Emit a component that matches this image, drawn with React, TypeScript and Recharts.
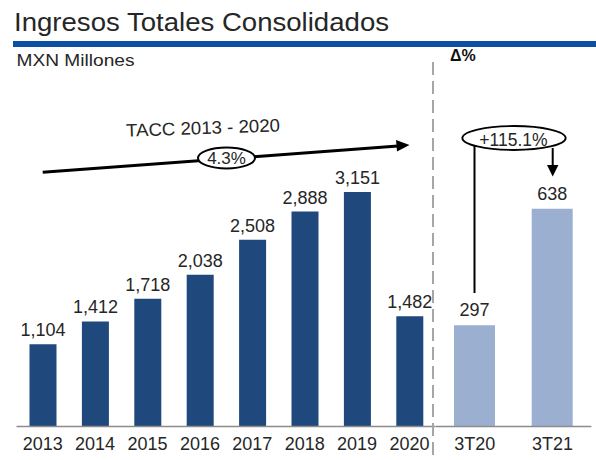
import React from 'react';
import { BarChart, Bar, XAxis, YAxis, LabelList } from 'recharts';

const years = ['2013', '2014', '2015', '2016', '2017', '2018', '2019', '2020'];
const annualRevenue = [1104, 1412, 1718, 2038, 2508, 2888, 3151, 1482];
const quarters = ['3T20', '3T21'];
const quarterlyRevenue = [297, 638];

const titleText = 'Ingresos Totales Consolidados';
const unitText = 'MXN Millones';
const deltaText = 'Δ%';
const cagrTitle = 'TACC 2013 - 2020';
const cagrValue = '4.3%';
const quarterGrowth = '+115.1%';

const annualData = years.map((y, i) => ({ period: y, value: annualRevenue[i] }));
const quarterData = quarters.map((q, i) => ({ period: q, value: quarterlyRevenue[i] }));

const DARK = '#1F487C';
const LIGHT = '#9BB0D0';
const TEXT = '#262626';
const FONT = '"Liberation Sans", Arial, sans-serif';

const fmt = (v: any) => Number(v).toLocaleString('en-US');

export default function App() {
  return (
    <div style={{ position: 'absolute', left: 0, top: 0, width: 596, height: 460, background: '#fff', fontFamily: FONT }}>
      <div style={{ position: 'absolute', left: 0, top: 0 }}>
        <BarChart
          width={596}
          height={460}
          data={annualData}
          margin={{ top: 166, right: 160.3, left: 16.5, bottom: 3.5 }}
        >
          <XAxis
            dataKey="period"
            interval={0}
            height={30}
            tickLine={false}
            tickMargin={5}
            axisLine={{ stroke: '#8c8c8c', strokeWidth: 1.5 }}
            tick={{ fontSize: 18, fill: TEXT, fontFamily: FONT }}
          />
          <YAxis hide type="number" domain={[0, 3500]} />
          <Bar dataKey="value" fill={DARK} barSize={27} isAnimationActive={false}>
            <LabelList
              dataKey="value"
              position="top"
              offset={8}
              formatter={fmt}
              style={{ fontSize: 18, fill: TEXT, fontFamily: FONT }}
            />
          </Bar>
        </BarChart>
      </div>
      <div style={{ position: 'absolute', left: 0, top: 0 }}>
        <BarChart
          width={596}
          height={460}
          data={quarterData}
          margin={{ top: 187.6, right: 4.6, left: 436, bottom: 3.5 }}
        >
          <XAxis
            dataKey="period"
            interval={0}
            height={30}
            tickLine={false}
            tickMargin={5}
            axisLine={{ stroke: '#8c8c8c', strokeWidth: 1.5 }}
            tick={{ fontSize: 18, fill: TEXT, fontFamily: FONT }}
          />
          <YAxis hide type="number" domain={[0, 700]} />
          <Bar dataKey="value" fill={LIGHT} barSize={41} isAnimationActive={false}>
            <LabelList
              dataKey="value"
              position="top"
              offset={9}
              formatter={fmt}
              style={{ fontSize: 18, fill: TEXT, fontFamily: FONT }}
            />
          </Bar>
        </BarChart>
      </div>
      <svg
        width={596}
        height={460}
        style={{ position: 'absolute', left: 0, top: 0, pointerEvents: 'none' }}
      >
        <text x={14} y={31} fontSize={25} fill={TEXT} fontFamily={FONT} textLength={375} lengthAdjust="spacingAndGlyphs">
          {titleText}
        </text>
        <rect x={13} y={41} width={583} height={6} fill="#0D4FA2" />
        <text x={16.5} y={65.5} fontSize={16} fill={TEXT} fontFamily={FONT} textLength={118} lengthAdjust="spacingAndGlyphs">
          {unitText}
        </text>
        <text x={450} y={61} fontSize={16} fontWeight="bold" fill="#111" fontFamily={FONT}>
          {deltaText}
        </text>
        <line x1={433} y1={62} x2={433} y2={460} stroke="#a6a6a6" strokeWidth={2} strokeDasharray="13 6" />

        {/* CAGR arrow */}
        <line x1={42.7} y1={172.3} x2={398} y2={146} stroke="#000" strokeWidth={3} />
        <polygon points="396,140 409.5,145 397,151.5" fill="#000" />
        <ellipse cx={226.5} cy={158} rx={28.5} ry={10.5} fill="#fff" stroke="#000" strokeWidth={2} />
        <text x={226.5} y={164} fontSize={17} fill={TEXT} fontFamily={FONT} textAnchor="middle">
          {cagrValue}
        </text>
        <text
          x={203}
          y={134}
          fontSize={18}
          fill={TEXT}
          fontFamily={FONT}
          textAnchor="middle"
          textLength={154}
          lengthAdjust="spacingAndGlyphs"
          transform="rotate(-2 203 128)"
        >
          {cagrTitle}
        </text>

        {/* Quarterly growth */}
        <line x1={474.5} y1={146} x2={474.5} y2={293} stroke="#000" strokeWidth={2} />
        <line x1={552.7} y1={148} x2={552.7} y2={166} stroke="#000" strokeWidth={2} />
        <polygon points="547,165 558.4,165 552.7,176.5" fill="#000" />
        <ellipse cx={514} cy={138} rx={51.7} ry={12} fill="#fff" stroke="#000" strokeWidth={1.8} />
        <text x={513.5} y={146} fontSize={17.5} fill={TEXT} fontFamily={FONT} textAnchor="middle">
          {quarterGrowth}
        </text>
      </svg>
    </div>
  );
}
